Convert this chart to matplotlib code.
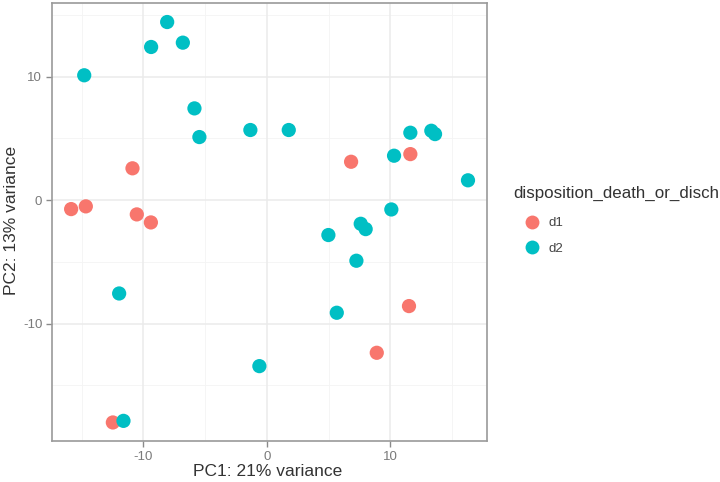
import matplotlib
matplotlib.use("Agg")
import matplotlib.pyplot as plt
from matplotlib.lines import Line2D

plt.rcParams['font.family'] = ['Liberation Sans', 'DejaVu Sans']

# d1 group (red)
d1_pc1 = [-15.85, -14.66, -10.88, -10.53, -9.39, 6.83, 11.63, 11.52, 8.91, -12.47]
d1_pc2 = [-0.73, -0.51, 2.57, -1.16, -1.81, 3.10, 3.72, -8.58, -12.36, -18.0]
# d2 group (teal)
d2_pc1 = [-14.79, -9.37, -8.07, -6.80, -5.86, -5.46, -1.33, 1.78, 11.63, 13.33,
          13.63, 10.31, 16.30, 10.09, 7.61, 8.01, 4.99, 7.26, 5.67, -0.60,
          -11.96, -11.61]
d2_pc2 = [10.10, 12.39, 14.41, 12.74, 7.42, 5.10, 5.67, 5.67, 5.45, 5.61,
          5.34, 3.59, 1.60, -0.76, -1.92, -2.35, -2.83, -4.91, -9.12, -13.44,
          -7.56, -17.87]

groups = ["d1", "d2"]
colors = ["#F8766D", "#00BFC4"]
xticks = [-10, 0, 10]
yticks = [-10, 0, 10]
xminor = [-15, -5, 5, 15]
yminor = [-15, -5, 5, 15]

fig = plt.figure(figsize=(7.2, 4.82), dpi=100)
ax = fig.add_axes([52/720, 1-441/482, (487-52)/720, (441-3)/482])
ax.set_xlim(-17.4, 17.84)
ax.set_ylim(-19.5, 15.95)

for v in xminor:
    ax.axvline(v, color="#F4F4F4", lw=0.6, zorder=0)
for v in yminor:
    ax.axhline(v, color="#F4F4F4", lw=0.6, zorder=0)
for v in xticks:
    ax.axvline(v, color="#EBEBEB", lw=1.1, zorder=0)
for v in yticks:
    ax.axhline(v, color="#EBEBEB", lw=1.1, zorder=0)

ax.scatter(d1_pc1, d1_pc2, s=105, color=colors[0], edgecolors="none", zorder=3)
ax.scatter(d2_pc1, d2_pc2, s=105, color=colors[1], edgecolors="none", zorder=3)

ax.set_xticks(xticks)
ax.set_yticks(yticks)
ax.set_xticklabels([str(t) for t in xticks])
ax.set_yticklabels([str(t) for t in yticks])
ax.tick_params(axis="both", colors="#8a8a8a", labelcolor="#7a7a7a", length=4,
               width=1, labelsize=9.5, pad=3)
for sp in ax.spines.values():
    sp.set_color("#9a9a9a")
    sp.set_linewidth(1.2)

fig.text(268/720, 1-472/482, "PC1: 21% variance", fontsize=12.5, color="#333333",
         ha="center", va="center")
fig.text(12/720, 1-220/482, "PC2: 13% variance", fontsize=12.5, color="#333333",
         ha="center", va="center", rotation=90)

handles = [Line2D([0], [0], marker="o", linestyle="none", markersize=10,
                  markerfacecolor=c, markeredgecolor="none") for c in colors]
leg = fig.legend(handles, groups, loc="upper left",
                 bbox_to_anchor=(512/720, 1-208/482),
                 frameon=False, fontsize=9.5,
                 handletextpad=0.5, labelspacing=1.0, borderpad=0.2,
                 handlelength=1.6)
for t in leg.get_texts():
    t.set_color("#444444")
fig.text(513/720, 1-193/482, "disposition_death_or_disch", fontsize=12.2,
         color="#333333", ha="left", va="center")

fig.savefig("out.png", dpi=100)
